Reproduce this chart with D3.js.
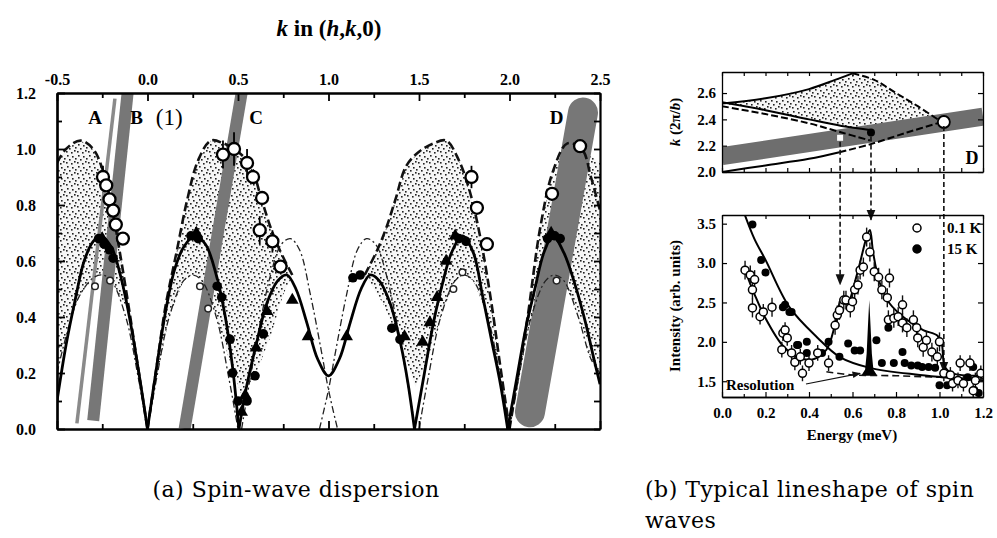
<!DOCTYPE html>
<html>
<head>
<meta charset="utf-8">
<script src="https://cdn.jsdelivr.net/npm/d3@7"></script>
<style>
  body { margin: 0; background: #fff; }
  svg text { font-family: "Liberation Serif", "Times New Roman", serif; }
  svg text.caption { font-family: "DejaVu Serif", "Liberation Serif", serif; letter-spacing: 0.5px; }
</style>
</head>
<body>
<svg id="fig" width="997" height="538"></svg>
<script>
// ---------------------------//
//        PANEL (a) DATA      //
// ---------------------------//
const aTicksX = [-0.5, 0, 0.5, 1, 1.5, 2, 2.5];
const aMinorX = [-0.25, 0.25, 0.75, 1.25, 1.75, 2.25];
const aTicksY = [0, 0.2, 0.4, 0.6, 0.8, 1.0, 1.2];
const aMinorY = [0.1, 0.3, 0.5, 0.7, 0.9, 1.1];

// solid dispersion, one arch between zeros
const solidArches = [
  [[-0.5,0.1],[-0.45,0.3],[-0.4,0.46],[-0.35,0.6],[-0.3,0.67],[-0.26,0.69],[-0.2,0.65],[-0.15,0.55],[-0.1,0.4],[-0.05,0.21],[0,0]],
  [[0,0],[0.05,0.22],[0.1,0.42],[0.15,0.57],[0.2,0.65],[0.26,0.69],[0.32,0.66],[0.38,0.55],[0.43,0.4],[0.47,0.22],[0.505,0]],
  [[0.505,0],[0.55,0.16],[0.6,0.3],[0.66,0.45],[0.72,0.53],[0.77,0.55],[0.82,0.5],[0.88,0.38],[0.94,0.25],[1.0,0.19],
   [1.06,0.25],[1.12,0.38],[1.18,0.5],[1.23,0.55],[1.28,0.53],[1.34,0.45],[1.4,0.3],[1.44,0.16],[1.475,0]],
  [[1.475,0],[1.53,0.2],[1.58,0.38],[1.63,0.52],[1.68,0.63],[1.74,0.69],[1.8,0.63],[1.85,0.48],[1.9,0.32],[1.95,0.16],[1.99,0]],
  [[1.99,0],[2.04,0.18],[2.09,0.36],[2.14,0.5],[2.19,0.63],[2.24,0.69],[2.3,0.63],[2.36,0.52],[2.42,0.38],[2.47,0.24],[2.5,0.16]]
];

// thick dashed upper boundary
const dashArches = [
  [[-0.5,0.95],[-0.45,1.0],[-0.37,1.03],[-0.3,1.0],[-0.25,0.93],[-0.2,0.8],[-0.15,0.62],[-0.1,0.42],[-0.05,0.21],[0,0]],
  [[0,0],[0.05,0.22],[0.1,0.44],[0.16,0.63],[0.22,0.82],[0.28,0.96],[0.35,1.03],[0.42,1.02],[0.5,0.99],[0.57,0.94],[0.63,0.82],[0.68,0.72],[0.73,0.64],[0.8,0.55]],
  [[1.2,0.55],[1.27,0.64],[1.32,0.72],[1.37,0.82],[1.43,0.94],[1.5,0.99],[1.58,1.02],[1.65,1.03],[1.72,0.96],[1.78,0.85],[1.84,0.68],[1.9,0.45],[1.95,0.22],[2.0,0]],
  [[2.0,0],[2.05,0.2],[2.1,0.4],[2.17,0.72],[2.24,0.92],[2.32,1.02],[2.4,1.0],[2.45,0.9],[2.5,0.78]]
];

// thin dash-dot branches
const dotArches = [
  [[-0.5,0.2],[-0.45,0.33],[-0.38,0.47],[-0.3,0.54],[-0.25,0.55],[-0.2,0.53],[-0.12,0.4],[-0.05,0.18],[0,0]],
  [[0,0],[0.05,0.18],[0.12,0.4],[0.2,0.53],[0.25,0.55],[0.3,0.53],[0.38,0.4],[0.45,0.18],[0.5,0]],
  [[0.52,0],[0.6,0.3],[0.68,0.55],[0.74,0.66],[0.79,0.68],[0.84,0.64],[0.9,0.48],[0.96,0.28],[1.0,0.14],[1.05,0]],
  [[0.95,0],[1.0,0.14],[1.04,0.28],[1.1,0.48],[1.16,0.64],[1.21,0.68],[1.26,0.66],[1.32,0.55],[1.4,0.3],[1.48,0]],
  [[1.5,0],[1.55,0.18],[1.62,0.4],[1.7,0.53],[1.75,0.55],[1.8,0.53],[1.88,0.4],[1.95,0.18],[2.0,0]],
  [[2.0,0],[2.05,0.18],[2.12,0.4],[2.2,0.53],[2.25,0.55],[2.3,0.53],[2.38,0.4],[2.45,0.25],[2.5,0.2]]
];

// stippled continuum regions
const stippleLobes = [
  [[-0.5,0.2],[-0.5,0.95],[-0.45,1.0],[-0.37,1.03],[-0.3,1.0],[-0.25,0.93],[-0.2,0.8],[-0.15,0.62],[-0.1,0.42],
   [-0.15,0.47],[-0.2,0.53],[-0.25,0.55],[-0.3,0.54],[-0.38,0.47],[-0.45,0.33]],
  [[0.02,0.1],[0.05,0.22],[0.1,0.44],[0.16,0.63],[0.22,0.82],[0.28,0.96],[0.35,1.03],[0.42,1.02],[0.5,0.99],[0.57,0.94],[0.63,0.82],[0.68,0.72],[0.73,0.64],[0.8,0.55],
   [0.75,0.48],[0.68,0.33],[0.6,0.2],[0.52,0.12],[0.45,0.25],[0.38,0.4],[0.3,0.53],[0.25,0.55],[0.2,0.53],[0.12,0.4],[0.05,0.18]],
  [[1.2,0.55],[1.27,0.64],[1.32,0.72],[1.37,0.82],[1.43,0.94],[1.5,0.99],[1.58,1.02],[1.65,1.03],[1.72,0.96],[1.78,0.85],[1.84,0.68],[1.9,0.45],[1.95,0.22],[1.98,0.1],
   [1.95,0.18],[1.88,0.4],[1.8,0.53],[1.75,0.55],[1.7,0.53],[1.62,0.4],[1.55,0.25],[1.48,0.15],[1.4,0.3],[1.3,0.45]],
  [[2.02,0.1],[2.05,0.2],[2.1,0.4],[2.17,0.72],[2.24,0.92],[2.32,1.02],[2.4,1.0],[2.5,0.95],[2.5,0.2],
   [2.45,0.25],[2.38,0.4],[2.3,0.53],[2.25,0.55],[2.2,0.53],[2.12,0.4],[2.05,0.18]]
];

// neutron energy scans (grey bands): [bottom, top], width
const bandNames = ["A", "B", "C", "D"];
const bandEnds = [
  [[-0.39,0.02],[-0.18,1.18]],
  [[-0.30,0.03],[-0.11,1.2]],
  [[0.205,0.0],[0.52,1.2]],
  [[2.113,0.06],[2.406,1.13]]
];
const bandWidths = [3.5, 12, 12, 30];

const openBig = [
  [-0.246,0.90],[-0.228,0.87],[-0.21,0.82],[-0.19,0.78],[-0.175,0.73],[-0.136,0.68],
  [0.417,0.98],[0.478,1.0],[0.55,0.95],[0.583,0.9],[0.633,0.825],[0.62,0.71],[0.69,0.67],[0.735,0.58],
  [1.79,0.9],[1.82,0.79],[1.875,0.66],[2.235,0.84],[2.39,1.01]
];
const openBigErr = [0.04,0,0,0,0,0, 0.05,0.06,0.05,0,0,0.05,0.04,0, 0.04,0,0,0,0];
const openSmall = [[-0.29,0.51],[-0.207,0.53],[0.29,0.51],[0.335,0.43],[1.69,0.5],[1.74,0.56],[2.26,0.53]];
const filledCirc = [
  [-0.27,0.68],[-0.24,0.66],[-0.21,0.64],[-0.19,0.61],
  [0.24,0.69],[0.28,0.68],[0.385,0.51],[0.41,0.47],[0.456,0.32],[0.47,0.2],[0.5,0.1],[0.55,0.1],[0.594,0.19],[0.64,0.34],
  [1.135,0.54],[1.175,0.55],[1.35,0.36],[1.395,0.32],
  [1.72,0.68],[1.76,0.67],[2.21,0.68],[2.25,0.69],[2.28,0.68]
];
const filledTri = [
  [-0.25,0.68],[0.27,0.7],[0.52,0.06],[0.54,0.12],[0.6,0.29],[0.66,0.42],[0.8,0.46],[0.887,0.33],
  [1.1,0.33],[1.42,0.33],[1.52,0.31],[1.56,0.38],[1.6,0.47],[1.65,0.6],[1.7,0.69],[2.23,0.7]
];

// ---------------------------//
//        PANEL (b) DATA      //
// ---------------------------//
const bTicksE = [0, 0.2, 0.4, 0.6, 0.8, 1.0, 1.2];
const bMinorE = [0.1, 0.3, 0.5, 0.7, 0.9, 1.1];
const bTicksK = [2.0, 2.2, 2.4, 2.6];
const bTicksI = [1.5, 2.0, 2.5, 3.0, 3.5];

const topUpper = [[0,2.52],[0.2,2.56],[0.4,2.63],[0.52,2.7],[0.6,2.75]];
const topRight = [[0.6,2.75],[0.7,2.7],[0.8,2.6],[0.9,2.5],[1.01,2.38]];
const topMid = [[0,2.53],[0.2,2.47],[0.4,2.4],[0.55,2.35],[0.68,2.32]];
const topMidDash = [[0,2.5],[0.2,2.44],[0.4,2.37],[0.55,2.3],[0.68,2.24]];
const topLow = [[0,2.0],[0.2,2.05],[0.4,2.1],[0.54,2.15]];
const topLowDash = [[0.54,2.15],[0.68,2.21],[0.85,2.3],[1.01,2.38]];
const topStipple = [[0,2.52],[0.2,2.56],[0.4,2.63],[0.52,2.7],[0.6,2.75],[0.7,2.7],[0.8,2.6],[0.9,2.5],[1.01,2.38],
  [0.85,2.37],[0.68,2.32],[0.55,2.35],[0.4,2.4],[0.2,2.47]];
const topBand = [[0,2.12],[1.2,2.42]];

const arrowE = [0.543, 0.685, 1.02];
const arrowK = [2.26, 2.30, 2.38];
const arrowI = [2.73, 3.55, 1.62];

// 0.1 K: energy, intensity, error
const open01 = [
  [0.106,2.91,0.12],[0.13,2.85,0.12],[0.15,2.79,0.12],[0.14,2.66,0.12],[0.14,2.43,0.12],[0.175,2.32,0.1],[0.19,2.38,0.1],
  [0.23,2.44,0.12],[0.28,2.11,0.1],[0.29,2.15,0.1],[0.30,2.05,0.1],[0.275,1.90,0.1],[0.32,1.86,0.1],[0.335,1.74,0.1],
  [0.36,1.81,0.1],[0.37,1.60,0.1],[0.40,1.73,0.1],[0.44,1.86,0.1],[0.49,1.73,0.1],[0.52,2.21,0.12],[0.53,2.34,0.12],
  [0.54,2.40,0.12],[0.56,2.53,0.12],[0.57,2.53,0.12],[0.59,2.43,0.12],[0.60,2.51,0.12],[0.61,2.66,0.12],[0.625,2.72,0.12],
  [0.635,2.91,0.12],[0.65,2.95,0.12],[0.665,3.33,0.12],[0.68,3.14,0.12],[0.70,2.89,0.12],[0.72,2.82,0.12],[0.735,2.66,0.12],
  [0.76,2.56,0.12],[0.77,2.81,0.12],[0.765,2.28,0.12],[0.79,2.30,0.12],[0.81,2.32,0.12],[0.83,2.47,0.12],[0.83,2.24,0.12],
  [0.85,2.18,0.12],[0.88,2.28,0.12],[0.895,2.18,0.12],[0.90,2.05,0.12],[0.925,1.93,0.12],[0.94,2.02,0.12],[0.965,1.87,0.12],
  [0.99,1.81,0.12],[1.00,2.0,0.12],[1.02,1.60,0.1],[1.05,1.58,0.1],[1.06,1.47,0.1],[1.085,1.51,0.1],[1.095,1.73,0.1],
  [1.11,1.47,0.1],[1.14,1.73,0.1],[1.155,1.38,0.1],[1.165,1.51,0.1],[1.19,1.60,0.1]
];
// 15 K: energy, intensity
const filled15 = [
  [0.14,3.49],[0.18,3.04],[0.20,2.88],[0.28,2.44],[0.29,2.47],[0.31,2.38],[0.32,2.38],[0.345,1.96],[0.35,1.96],[0.39,2.0],
  [0.39,1.86],[0.46,1.86],[0.49,2.0],[0.54,1.81],[0.58,1.98],[0.61,1.89],[0.635,1.89],[0.71,2.02],[0.735,1.73],[0.765,2.18],
  [0.79,1.73],[0.83,1.87],[0.84,1.73],[0.87,1.70],[0.90,1.70],[0.92,1.68],[0.95,1.68],[0.98,1.67],[1.0,1.45],[1.035,1.45],
  [1.08,1.5],[1.13,1.55],[1.155,1.68],[1.16,1.39],[1.18,1.35]
];
const fit01 = [[0.1,2.95],[0.15,2.6],[0.2,2.3],[0.28,1.95],[0.35,1.8],[0.42,1.78],[0.48,1.9],[0.52,2.22],[0.55,2.55],[0.575,2.48],
  [0.62,2.85],[0.665,3.33],[0.68,3.42],[0.695,3.13],[0.725,2.75],[0.77,2.49],[0.85,2.28],[0.925,2.15],[0.99,2.08],[1.01,1.98],
  [1.025,1.68],[1.06,1.6],[1.2,1.57]];
const fit15 = [[0.105,3.61],[0.15,3.3],[0.2,3.04],[0.31,2.44],[0.44,2.05],[0.54,1.81],[0.68,1.67],[0.91,1.58],[1.2,1.51]];
const background = [[0.48,1.62],[0.6,1.58],[0.8,1.57],[1.0,1.55],[1.2,1.53]];
const resolution = [[0.64,1.57],[0.658,1.65],[0.665,1.85],[0.671,2.2],[0.677,2.53],[0.683,2.2],[0.689,1.85],[0.696,1.65],[0.714,1.57]];

// ---------------------------//
//       SET  CANVAS          //
// ---------------------------//
const svg = d3.select("#fig");
const serif = "Liberation Serif, Times New Roman, serif";

const defs = svg.append("defs");
const stipDots = [[1,1],[6,2],[3,5],[8,7],[0,8],[5,9],[9,4]];
const pat = defs.append("pattern").attr("id", "stip")
  .attr("width", 11).attr("height", 11).attr("patternUnits", "userSpaceOnUse");
pat.append("rect").attr("width", 11).attr("height", 11).attr("fill", "#f6f6f6");
pat.selectAll("rect.dot").data(stipDots).join("rect").attr("class", "dot")
  .attr("x", d => d[0]).attr("y", d => d[1]).attr("width", 1.6).attr("height", 1.6).attr("fill", "#222");

defs.append("marker").attr("id", "arrow").attr("viewBox", "0 0 10 10")
  .attr("refX", 9).attr("refY", 5).attr("markerWidth", 7).attr("markerHeight", 7).attr("orient", "auto")
  .append("path").attr("d", "M0,1 L10,5 L0,9 Z").attr("fill", "#111");

// ---------------------------//
//       PANEL (a)            //
// ---------------------------//
const xA = d3.scaleLinear().domain([-0.5, 2.5]).range([57, 600]);
const yA = d3.scaleLinear().domain([0, 1.2]).range([429, 93]);

defs.append("clipPath").attr("id", "clipA").append("rect")
  .attr("x", 57).attr("y", 93).attr("width", 543).attr("height", 336);

const gA = svg.append("g");
const plotA = gA.append("g").attr("clip-path", "url(#clipA)");
const lineA = d3.line().x(d => xA(d[0])).y(d => yA(d[1])).curve(d3.curveCatmullRom.alpha(0.5));
const areaA = d3.line().x(d => xA(d[0])).y(d => yA(d[1])).curve(d3.curveLinearClosed);

plotA.selectAll("path.stip").data(stippleLobes).join("path").attr("class", "stip")
  .attr("d", areaA).attr("fill", "url(#stip)").attr("stroke", "none");

// scan bands
plotA.selectAll("line.band").data(bandEnds).join("line").attr("class", "band")
  .attr("x1", d => xA(d[0][0])).attr("y1", d => yA(d[0][1]))
  .attr("x2", d => xA(d[1][0])).attr("y2", d => yA(d[1][1]))
  .attr("stroke", (d, i) => i === 0 ? "#8a8a8a" : "#777")
  .attr("stroke-width", (d, i) => bandWidths[i])
  .attr("stroke-linecap", (d, i) => i === 3 ? "round" : "butt");

plotA.selectAll("path.dd").data(dotArches).join("path").attr("class", "dd")
  .attr("d", lineA).attr("fill", "none").attr("stroke", "#222")
  .attr("stroke-width", 1.3).attr("stroke-dasharray", "7,3,2,3");
plotA.selectAll("path.dash").data(dashArches).join("path").attr("class", "dash")
  .attr("d", lineA).attr("fill", "none").attr("stroke", "#111")
  .attr("stroke-width", 2.6).attr("stroke-dasharray", "9,4");
plotA.selectAll("path.solid").data(solidArches).join("path").attr("class", "solid")
  .attr("d", lineA).attr("fill", "none").attr("stroke", "#000").attr("stroke-width", 2.8);

// markers
const errPts = openBig.map((d, i) => [d[0], d[1], openBigErr[i]]).filter(d => d[2] > 0);
plotA.selectAll("line.err").data(errPts).join("line").attr("class", "err")
  .attr("x1", d => xA(d[0])).attr("x2", d => xA(d[0]))
  .attr("y1", d => yA(d[1] + d[2])).attr("y2", d => yA(d[1] - d[2]))
  .attr("stroke", "#000").attr("stroke-width", 1.8);
plotA.selectAll("path.tri").data(filledTri).join("path").attr("class", "tri")
  .attr("d", d3.symbol(d3.symbolTriangle, 70))
  .attr("transform", d => `translate(${xA(d[0])},${yA(d[1])})`).attr("fill", "#000");
plotA.selectAll("circle.fc").data(filledCirc).join("circle").attr("class", "fc")
  .attr("cx", d => xA(d[0])).attr("cy", d => yA(d[1])).attr("r", 4.8).attr("fill", "#000");
plotA.selectAll("circle.os").data(openSmall).join("circle").attr("class", "os")
  .attr("cx", d => xA(d[0])).attr("cy", d => yA(d[1])).attr("r", 3.3)
  .attr("fill", "#fff").attr("stroke", "#222").attr("stroke-width", 1.5);
plotA.selectAll("circle.ob").data(openBig).join("circle").attr("class", "ob")
  .attr("cx", d => xA(d[0])).attr("cy", d => yA(d[1])).attr("r", 6)
  .attr("fill", "#fff").attr("stroke", "#000").attr("stroke-width", 2.3);

// band labels
const bandLabelPos = [[-0.29, 1.09], [-0.06, 1.09], [0.6, 1.09], [2.26, 1.09]];
gA.selectAll("text.blab").data(bandNames).join("text").attr("class", "blab")
  .attr("x", (d, i) => xA(bandLabelPos[i][0])).attr("y", (d, i) => yA(bandLabelPos[i][1]))
  .attr("text-anchor", "middle").attr("font-weight", "bold")
  .attr("font-size", 19).text(d => d);
gA.append("text").attr("x", xA(0.12)).attr("y", yA(1.085)).attr("text-anchor", "middle")
  .attr("font-size", 23).text("(1)");

// axes
const fmt1 = d => d.toFixed(1);
function styleAxis(g) {
  g.attr("font-family", serif);
  g.select(".domain").attr("stroke-width", 2.2);
  g.selectAll(".tick line").attr("stroke-width", 1.8);
  g.selectAll("text").attr("font-size", 16).attr("font-weight", "bold").attr("fill", "#000");
}
gA.append("g").attr("transform", `translate(0,${yA(1.2)})`)
  .call(d3.axisTop(xA).tickValues(aTicksX).tickFormat(fmt1).tickSizeInner(-8).tickSizeOuter(0).tickPadding(8))
  .call(styleAxis);
gA.append("g").attr("transform", `translate(0,${yA(1.2)})`)
  .call(d3.axisTop(xA).tickValues(aMinorX).tickFormat("").tickSizeInner(-5).tickSizeOuter(0))
  .call(styleAxis);
gA.append("g").attr("transform", `translate(0,${yA(0)})`)
  .call(d3.axisBottom(xA).tickValues(aTicksX).tickFormat("").tickSizeInner(-8).tickSizeOuter(0))
  .call(styleAxis);
gA.append("g").attr("transform", `translate(0,${yA(0)})`)
  .call(d3.axisBottom(xA).tickValues(aMinorX).tickFormat("").tickSizeInner(-5).tickSizeOuter(0))
  .call(styleAxis);
gA.append("g").attr("transform", `translate(${xA(-0.5)},0)`)
  .call(d3.axisLeft(yA).tickValues(aTicksY).tickFormat(fmt1).tickSizeInner(-8).tickSizeOuter(0).tickPadding(21))
  .call(styleAxis);
gA.append("g").attr("transform", `translate(${xA(-0.5)},0)`)
  .call(d3.axisLeft(yA).tickValues(aMinorY).tickFormat("").tickSizeInner(-5).tickSizeOuter(0))
  .call(styleAxis);
gA.append("g").attr("transform", `translate(${xA(2.5)},0)`)
  .call(d3.axisRight(yA).tickValues(aTicksY.concat(aMinorY)).tickFormat("").tickSizeInner(-6).tickSizeOuter(0))
  .call(styleAxis);

// title
const title = gA.append("text").attr("x", 329).attr("y", 36).attr("text-anchor", "middle")
  .attr("font-size", 23).attr("font-weight", "bold");
title.append("tspan").attr("font-style", "italic").text("k");
title.append("tspan").text(" in (");
title.append("tspan").attr("font-style", "italic").text("h");
title.append("tspan").text(",");
title.append("tspan").attr("font-style", "italic").text("k");
title.append("tspan").text(",0)");

// ---------------------------//
//       PANEL (b)            //
// ---------------------------//
const xB = d3.scaleLinear().domain([0, 1.2]).range([722, 983]);
const yT = d3.scaleLinear().domain([2.0, 2.76]).range([172, 72]);
const yL = d3.scaleLinear().domain([1.3, 3.61]).range([397, 215]);

const gB = svg.append("g");
defs.append("clipPath").attr("id", "clipT").append("rect")
  .attr("x", 722).attr("y", 72).attr("width", 261).attr("height", 100);
defs.append("clipPath").attr("id", "clipL").append("rect")
  .attr("x", 722).attr("y", 215).attr("width", 261).attr("height", 182);

// top: k vs energy
const plotT = gB.append("g").attr("clip-path", "url(#clipT)");
const lineT = d3.line().x(d => xB(d[0])).y(d => yT(d[1])).curve(d3.curveCatmullRom.alpha(0.5));
plotT.append("path").attr("d", d3.line().x(d => xB(d[0])).y(d => yT(d[1])).curve(d3.curveLinearClosed)(topStipple))
  .attr("fill", "url(#stip)");
plotT.append("line").attr("x1", xB(topBand[0][0])).attr("y1", yT(topBand[0][1]))
  .attr("x2", xB(topBand[1][0])).attr("y2", yT(topBand[1][1]))
  .attr("stroke", "#6e6e6e").attr("stroke-width", 18);
[topUpper, topMid, topLow].forEach(s => plotT.append("path").attr("d", lineT(s))
  .attr("fill", "none").attr("stroke", "#000").attr("stroke-width", 2));
[topRight, topMidDash, topLowDash].forEach(s => plotT.append("path").attr("d", lineT(s))
  .attr("fill", "none").attr("stroke", "#000").attr("stroke-width", 2).attr("stroke-dasharray", "7,3"));

// arrows from the scan points down to the lineshape
gB.selectAll("line.arr").data(arrowE).join("line").attr("class", "arr")
  .attr("x1", d => xB(d)).attr("x2", d => xB(d))
  .attr("y1", (d, i) => yT(arrowK[i]) + 4).attr("y2", (d, i) => yL(arrowI[i]))
  .attr("stroke", "#111").attr("stroke-width", 1.6).attr("stroke-dasharray", "5,3")
  .attr("marker-end", "url(#arrow)");

plotT.append("rect").attr("x", xB(arrowE[0]) - 3).attr("y", yT(arrowK[0]) - 3)
  .attr("width", 6).attr("height", 6).attr("fill", "#fff");
plotT.append("circle").attr("cx", xB(arrowE[1])).attr("cy", yT(arrowK[1])).attr("r", 4).attr("fill", "#000");
plotT.append("circle").attr("cx", xB(arrowE[2])).attr("cy", yT(arrowK[2])).attr("r", 6)
  .attr("fill", "#fff").attr("stroke", "#000").attr("stroke-width", 1.8);
gB.append("text").attr("x", 972).attr("y", 164).attr("text-anchor", "middle")
  .attr("font-weight", "bold").attr("font-size", 18).text("D");

function styleThin(g) {
  g.attr("font-family", serif);
  g.select(".domain").attr("stroke-width", 1.3);
  g.selectAll(".tick line").attr("stroke-width", 1.2);
  g.selectAll("text").attr("font-size", 15).attr("font-weight", "bold").attr("fill", "#000");
}
gB.append("g").attr("transform", `translate(722,0)`)
  .call(d3.axisLeft(yT).tickValues(bTicksK).tickFormat(fmt1).tickSizeInner(-5).tickSizeOuter(0).tickPadding(6))
  .call(styleThin);
gB.append("g").attr("transform", `translate(983,0)`)
  .call(d3.axisRight(yT).tickValues(bTicksK).tickFormat("").tickSizeInner(-5).tickSizeOuter(0)).call(styleThin);
gB.append("g").attr("transform", `translate(0,72)`)
  .call(d3.axisTop(xB).tickValues(bTicksE.concat(bMinorE)).tickFormat("").tickSizeInner(-4).tickSizeOuter(0)).call(styleThin);
gB.append("g").attr("transform", `translate(0,172)`)
  .call(d3.axisBottom(xB).tickValues(bTicksE.concat(bMinorE)).tickFormat("").tickSizeInner(-4).tickSizeOuter(0)).call(styleThin);

const kLab = gB.append("text").attr("transform", "translate(680,122) rotate(-90)").attr("text-anchor", "middle")
  .attr("font-size", 15).attr("font-weight", "bold");
kLab.append("tspan").attr("font-style", "italic").text("k");
kLab.append("tspan").text(" (2π/");
kLab.append("tspan").attr("font-style", "italic").text("b");
kLab.append("tspan").text(")");

// lower: intensity vs energy
const plotL = gB.append("g").attr("clip-path", "url(#clipL)");
const lineL = d3.line().x(d => xB(d[0])).y(d => yL(d[1])).curve(d3.curveCatmullRom.alpha(0.5));

plotL.append("path").attr("d", d3.line().x(d => xB(d[0])).y(d => yL(d[1]))(resolution)).attr("fill", "#000");
plotL.append("path").attr("d", lineL(background)).attr("fill", "none").attr("stroke", "#111")
  .attr("stroke-width", 1.6).attr("stroke-dasharray", "7,4");
plotL.append("path").attr("d", lineL(fit15)).attr("fill", "none").attr("stroke", "#000").attr("stroke-width", 2);
plotL.append("path").attr("d", lineL(fit01)).attr("fill", "none").attr("stroke", "#000").attr("stroke-width", 2);

plotL.selectAll("line.e01").data(open01).join("line").attr("class", "e01")
  .attr("x1", d => xB(d[0])).attr("x2", d => xB(d[0]))
  .attr("y1", d => yL(d[1] + d[2])).attr("y2", d => yL(d[1] - d[2]))
  .attr("stroke", "#111").attr("stroke-width", 1.4);
plotL.selectAll("circle.f15").data(filled15).join("circle").attr("class", "f15")
  .attr("cx", d => xB(d[0])).attr("cy", d => yL(d[1])).attr("r", 4).attr("fill", "#000");
plotL.selectAll("circle.o01").data(open01).join("circle").attr("class", "o01")
  .attr("cx", d => xB(d[0])).attr("cy", d => yL(d[1])).attr("r", 4)
  .attr("fill", "#fff").attr("stroke", "#000").attr("stroke-width", 1.5);

gB.append("g").attr("transform", `translate(722,0)`)
  .call(d3.axisLeft(yL).tickValues(bTicksI).tickFormat(fmt1).tickSizeInner(-5).tickSizeOuter(0).tickPadding(6))
  .call(styleThin);
gB.append("g").attr("transform", `translate(983,0)`)
  .call(d3.axisRight(yL).tickValues(bTicksI).tickFormat("").tickSizeInner(-5).tickSizeOuter(0)).call(styleThin);
gB.append("g").attr("transform", `translate(0,215)`)
  .call(d3.axisTop(xB).tickValues(bTicksE).tickFormat("").tickSizeInner(-4).tickSizeOuter(0)).call(styleThin);
gB.append("g").attr("transform", `translate(0,397)`)
  .call(d3.axisBottom(xB).tickValues(bTicksE).tickFormat(fmt1).tickSizeInner(-5).tickSizeOuter(0).tickPadding(10))
  .call(styleThin);
gB.append("g").attr("transform", `translate(0,397)`)
  .call(d3.axisBottom(xB).tickValues(bMinorE).tickFormat("").tickSizeInner(-3).tickSizeOuter(0)).call(styleThin);

gB.append("text").attr("x", 852).attr("y", 440).attr("text-anchor", "middle")
  .attr("font-size", 15).attr("font-weight", "bold").text("Energy (meV)");
gB.append("text").attr("transform", "translate(680,306) rotate(-90)").attr("text-anchor", "middle")
  .attr("font-size", 15).attr("font-weight", "bold").text("Intensity (arb. units)");

// legend
const legT = ["0.1 K", "15 K"];
gB.selectAll("circle.leg").data(legT).join("circle").attr("class", "leg")
  .attr("cx", 917).attr("cy", (d, i) => 228 + i * 21).attr("r", 4)
  .attr("fill", (d, i) => i ? "#000" : "#fff").attr("stroke", "#000").attr("stroke-width", 1.5);
gB.selectAll("text.leg").data(legT).join("text").attr("class", "leg")
  .attr("x", 947).attr("y", (d, i) => 233 + i * 21)
  .attr("font-size", 15).attr("font-weight", "bold").text(d => d);

// resolution label
gB.append("text").attr("x", 726).attr("y", 390)
  .attr("font-size", 15).attr("font-weight", "bold").text("Resolution");
gB.append("line").attr("x1", 806).attr("y1", 384).attr("x2", xB(0.635)).attr("y2", yL(1.6))
  .attr("stroke", "#111").attr("stroke-width", 1.2).attr("marker-end", "url(#arrow)");

// ---------------------------//
//        CAPTIONS            //
// ---------------------------//
svg.append("text").attr("class", "caption").attr("x", 296).attr("y", 497).attr("text-anchor", "middle")
  .attr("font-size", 22).text("(a) Spin-wave dispersion");
svg.append("text").attr("class", "caption").attr("x", 645).attr("y", 497)
  .attr("font-size", 22).text("(b) Typical lineshape of spin");
svg.append("text").attr("class", "caption").attr("x", 645).attr("y", 528)
  .attr("font-size", 22).text("waves");
</script>
</body>
</html>
